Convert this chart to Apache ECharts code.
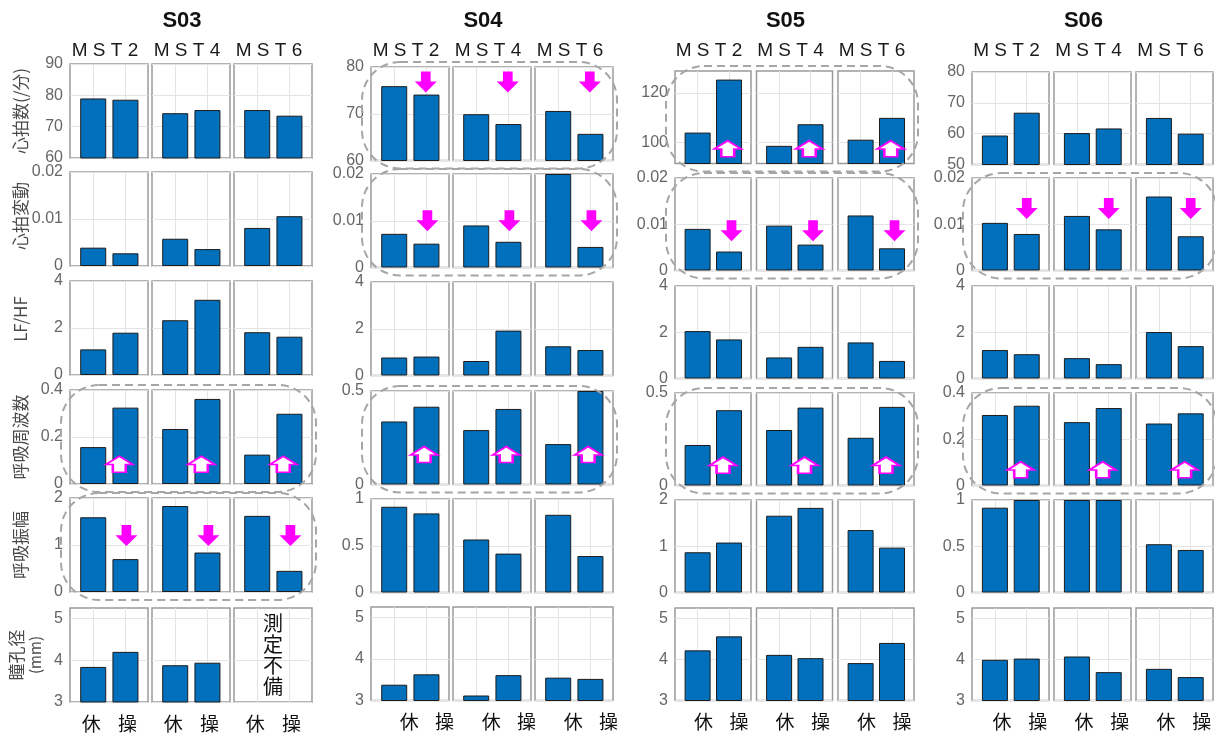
<!DOCTYPE html>
<html>
<head>
<meta charset="utf-8">
<script src="https://cdn.jsdelivr.net/npm/echarts@6/dist/echarts.min.js"></script>
<style>
  html, body { margin: 0; padding: 0; background: #fff; }
  #chart { width: 1215px; height: 740px; }
</style>
</head>
<body>
<div id="chart"></div>
<script>
// ---- Categories ----
const subjects = ['S03', 'S04', 'S05', 'S06'];
const sessions = ['MST2', 'MST4', 'MST6'];
const conditions = ['休', '操'];
const metrics = ['心拍数(/分)', '心拍変動', 'LF/HF', '呼吸周波数', '呼吸振幅', '瞳孔径'];
const metricUnits = ['', '', '', '', '', '(mm)'];
const missingNote = '測定不備';

// ---- Values: each array is [MST2, MST4, MST6], each pair is [休, 操] ----
const S03_HR    = [[79.0, 78.6], [74.3, 75.3], [75.3, 73.5]];
const S03_HRV   = [[0.0039, 0.0027], [0.0058, 0.0036], [0.0081, 0.0106]];
const S03_LFHF  = [[1.09, 1.80], [2.33, 3.20], [1.82, 1.63]];
const S03_RESPF = [[0.157, 0.325], [0.234, 0.362], [0.125, 0.299]];
const S03_RESPA = [[1.59, 0.70], [1.83, 0.84], [1.62, 0.45]];
const S03_PUPIL = [[3.84, 4.20], [3.88, 3.94], [null, null]];

const S04_HR    = [[75.9, 74.1], [69.9, 67.8], [70.6, 65.7]];
const S04_HRV   = [[0.0072, 0.0051], [0.0090, 0.0055], [0.0200, 0.0044]];
const S04_LFHF  = [[0.77, 0.81], [0.62, 1.92], [1.25, 1.09]];
const S04_RESPF = [[0.337, 0.416], [0.291, 0.404], [0.216, 0.500]];
const S04_RESPA = [[0.917, 0.846], [0.567, 0.416], [0.831, 0.390]];
const S04_PUPIL = [[3.38, 3.63], [3.12, 3.61], [3.55, 3.52]];

const S05_HR    = [[103.9, 125.5], [98.5, 107.3], [101.0, 109.9]];
const S05_HRV   = [[0.0090, 0.0041], [0.0097, 0.0056], [0.0119, 0.0048]];
const S05_LFHF  = [[2.05, 1.69], [0.91, 1.37], [1.56, 0.76]];
const S05_RESPF = [[0.219, 0.407], [0.300, 0.421], [0.258, 0.425]];
const S05_RESPA = [[0.87, 1.08], [1.66, 1.83], [1.35, 0.97]];
const S05_PUPIL = [[4.22, 4.56], [4.11, 4.03], [3.91, 4.40]];

const S06_HR    = [[59.4, 66.8], [60.2, 61.7], [65.1, 60.0]];
const S06_HRV   = [[0.0103, 0.0079], [0.0118, 0.0089], [0.0160, 0.0074]];
const S06_LFHF  = [[1.23, 1.05], [0.88, 0.62], [2.01, 1.40]];
const S06_RESPF = [[0.305, 0.345], [0.274, 0.335], [0.268, 0.312]];
const S06_RESPA = [[0.917, 1.0], [1.0, 1.0], [0.522, 0.46]];
const S06_PUPIL = [[3.99, 4.02], [4.07, 3.69], [3.77, 3.57]];

// ---- Y-axis ranges and tick labels: [min, max, ticks] per metric ----
const S03_AXES = [[60, 90, [60, 70, 80, 90]], [0, 0.02, [0, 0.01, 0.02]], [0, 4, [0, 2, 4]],
                  [0, 0.4, [0, 0.2, 0.4]], [0, 2, [0, 1, 2]], [3, 5.25, [3, 4, 5]]];
const S04_AXES = [[60, 80, [60, 70, 80]], [0, 0.02, [0, 0.01, 0.02]], [0, 4, [0, 2, 4]],
                  [0, 0.5, [0, 0.5]], [0, 1, [0, 0.5, 1]], [3, 5.25, [3, 4, 5]]];
const S05_AXES = [[91.3, 129, [100, 120]], [0, 0.02, [0, 0.01, 0.02]], [0, 4, [0, 2, 4]],
                  [0, 0.5, [0, 0.5]], [0, 2, [0, 1, 2]], [3, 5.25, [3, 4, 5]]];
const S06_AXES = [[50, 80, [50, 60, 70, 80]], [0, 0.02, [0, 0.01, 0.02]], [0, 4, [0, 2, 4]],
                  [0, 0.4, [0, 0.2, 0.4]], [0, 1, [0, 0.5, 1]], [3, 5.25, [3, 4, 5]]];

const values = [
  [S03_HR, S03_HRV, S03_LFHF, S03_RESPF, S03_RESPA, S03_PUPIL],
  [S04_HR, S04_HRV, S04_LFHF, S04_RESPF, S04_RESPA, S04_PUPIL],
  [S05_HR, S05_HRV, S05_LFHF, S05_RESPF, S05_RESPA, S05_PUPIL],
  [S06_HR, S06_HRV, S06_LFHF, S06_RESPF, S06_RESPA, S06_PUPIL]
];
const axisSpecs = [S03_AXES, S04_AXES, S05_AXES, S06_AXES];

// ---- Highlighted rows: [subject, metric row, direction, arrow height (fraction from top), arrow x] ----
const highlights = [
  [0, 3, 'up', 0.79, 1.81], [0, 4, 'down', 0.40, 2.03],
  [1, 0, 'down', 0.16, 1.98], [1, 1, 'down', 0.50, 2.03], [1, 3, 'up', 0.68, 1.93],
  [2, 0, 'up', 0.84, 1.96], [2, 1, 'down', 0.57, 2.08], [2, 3, 'up', 0.78, 1.81],
  [3, 1, 'down', 0.33, 2.0], [3, 3, 'up', 0.83, 1.81]
];

// ---- Layout ----
const layout = {
  colLeft: [70, 371, 675, 972],
  panelW: [78, 78, 76, 77],
  step: [82, 82, 81.5, 82],
  rowTop: [[64, 172, 281, 390, 498, 608], [67, 174, 282, 391, 499, 607],
           [71, 178, 286, 393, 500, 608], [72, 178, 286, 393, 500, 608]],
  rowH: [94, 93.5, 92.5, 92.5],
  labelShift: [[-2, 2], [15, 18], [6, 10], [7, 11]],
  nameShift: [0, 6, 18, 0, 0, 0],
  titleY: 21,
  sessionY: 51
};

const BAR_COLOR = '#0070BD';
const ARROW_COLOR = '#ff00ff';
const UP_PATH = 'path://M50,0 L100,52 L74,52 L74,100 L26,100 L26,52 L0,52 Z';
const DOWN_PATH = 'path://M28,0 L72,0 L72,48 L100,48 L50,100 L0,48 L28,48 Z';
const NUM_FONT = '"Liberation Sans", Arial, sans-serif';
const JP_FONT = '"Noto Sans CJK JP", "Noto Sans", sans-serif';

const chart = echarts.init(document.getElementById('chart'), null, { renderer: 'canvas' });

const option = {
  animation: false,
  backgroundColor: '#ffffff',
  grid: [], xAxis: [], yAxis: [], series: [], graphic: []
};

function padFor(shift) {
  return shift >= 0 ? [0, 0, 0, 2 * shift] : [0, -2 * shift, 0, 0];
}

subjects.forEach((subj, s) => {
  const colRight = layout.colLeft[s] + 2 * layout.step[s] + layout.panelW[s];

  // subject title
  option.graphic.push({
    type: 'text', z: 50,
    style: {
      text: subj, x: (layout.colLeft[s] + colRight) / 2 - 9, y: layout.titleY,
      textAlign: 'center', textVerticalAlign: 'middle',
      font: 'bold 22px ' + NUM_FONT, fill: '#111'
    }
  });

  metrics.forEach((metric, r) => {
    const [yMin, yMax, yTicks] = axisSpecs[s][r];
    const top = layout.rowTop[s][r];
    const h = layout.rowH[s];
    const isBottom = r === metrics.length - 1;
    const marks = highlights.filter(hl => hl[0] === s && hl[1] === r);

    sessions.forEach((sess, m) => {
      const i = option.grid.length;
      const left = layout.colLeft[s] + m * layout.step[s];
      const w = layout.panelW[s];
      const vals = values[s][r][m];

      option.grid.push({
        left: left, top: top, width: w, height: h,
        show: true, backgroundColor: '#fff',
        borderColor: '#9a9a9a', borderWidth: 1.5,
        containLabel: false, outerBoundsMode: 'none'
      });

      const shift = layout.labelShift[s];
      option.xAxis.push({
        gridIndex: i, type: 'value', min: 0.28, max: 2.7,
        axisLine: { show: false },
        axisTick: { show: false, customValues: [1, 2] },
        splitLine: { show: true, lineStyle: { color: '#e4e4e4', width: 1 } },
        axisLabel: {
          show: isBottom, customValues: [1, 2], margin: 12,
          formatter: v => (v === 1 ? '{a|' + conditions[0] + '}' : '{b|' + conditions[1] + '}'),
          rich: {
            a: { fontFamily: JP_FONT, fontSize: 19, color: '#111', padding: padFor(shift[0]) },
            b: { fontFamily: JP_FONT, fontSize: 19, color: '#111', padding: padFor(shift[1]) }
          }
        }
      });

      const yAxis = {
        gridIndex: i, type: 'value', min: yMin, max: yMax,
        axisLine: { show: false },
        axisTick: { show: false, customValues: yTicks },
        splitLine: { show: true, lineStyle: { color: '#e4e4e4', width: 1 } },
        axisLabel: {
          show: m === 0, customValues: yTicks, margin: 7,
          color: '#666', fontSize: 16, fontFamily: NUM_FONT, verticalAlign: 'middle'
        }
      };
      if (s === 0 && m === 0) {
        const unit = metricUnits[r];
        Object.assign(yAxis, {
          name: unit ? '{a|' + metric + '}\n{b|' + unit + '}' : metric,
          nameLocation: 'middle', nameRotate: 90,
          nameGap: unit ? 26 : 40,
          nameMoveOverlap: false,
          nameTextStyle: {
            fontFamily: JP_FONT, fontSize: 17, color: '#4a4a4a', lineHeight: 18,
            padding: [0, 0, 0, layout.nameShift[r]],
            rich: {
              a: { fontFamily: JP_FONT, fontSize: 17, color: '#4a4a4a', lineHeight: 18 },
              b: { fontFamily: JP_FONT, fontSize: 15, color: '#4a4a4a', lineHeight: 18 }
            }
          }
        });
      }
      option.yAxis.push(yAxis);

      const markData = marks.map(hl => {
        const up = hl[2] === 'up';
        return {
          coord: [hl[4], yMax - hl[3] * (yMax - yMin)],
          symbol: up ? UP_PATH : DOWN_PATH,
          symbolSize: up ? [27, 16] : [22, 21],
          itemStyle: up
            ? { color: '#ffffff', borderColor: ARROW_COLOR, borderWidth: 2 }
            : { color: ARROW_COLOR, borderWidth: 0 }
        };
      });

      option.series.push({
        type: 'bar', name: subj + ' ' + sess + ' ' + metric,
        xAxisIndex: i, yAxisIndex: i,
        barWidth: 26, clip: true, silent: true,
        itemStyle: { color: BAR_COLOR, borderColor: '#1c1c1c', borderWidth: 1 },
        data: vals.map((v, k) => [k + 1, v == null ? '-' : v]),
        markPoint: markData.length ? {
          silent: true, animation: false, label: { show: false }, data: markData
        } : undefined
      });

      // note for a missing measurement
      if (vals.every(v => v == null)) {
        option.graphic.push({
          type: 'text', z: 50,
          style: {
            text: missingNote.split('').join('\n'),
            x: left + w / 2, y: top + h / 2,
            textAlign: 'center', textVerticalAlign: 'middle',
            font: '20px ' + JP_FONT, lineHeight: 21, fill: '#111'
          }
        });
      }

      // session header above the top row
      if (r === 0) {
        option.graphic.push({
          type: 'text', z: 50,
          style: {
            text: sess.split('').join(' '), x: left + w / 2 - 4, y: layout.sessionY,
            textAlign: 'center', textVerticalAlign: 'middle',
            font: '19px ' + NUM_FONT, fill: '#1a1a1a'
          }
        });
      }
    });

    // dashed outline around highlighted rows
    if (marks.length) {
      option.graphic.push({
        type: 'rect', z: 100, silent: true,
        shape: {
          x: layout.colLeft[s] - 9, y: top - 5,
          width: colRight - layout.colLeft[s] + 13, height: h + 13, r: 38
        },
        style: { fill: 'none', stroke: '#a6a6a6', lineWidth: 2, lineDash: [8, 5] }
      });
    }
  });
});

chart.setOption(option);
</script>
</body>
</html>
